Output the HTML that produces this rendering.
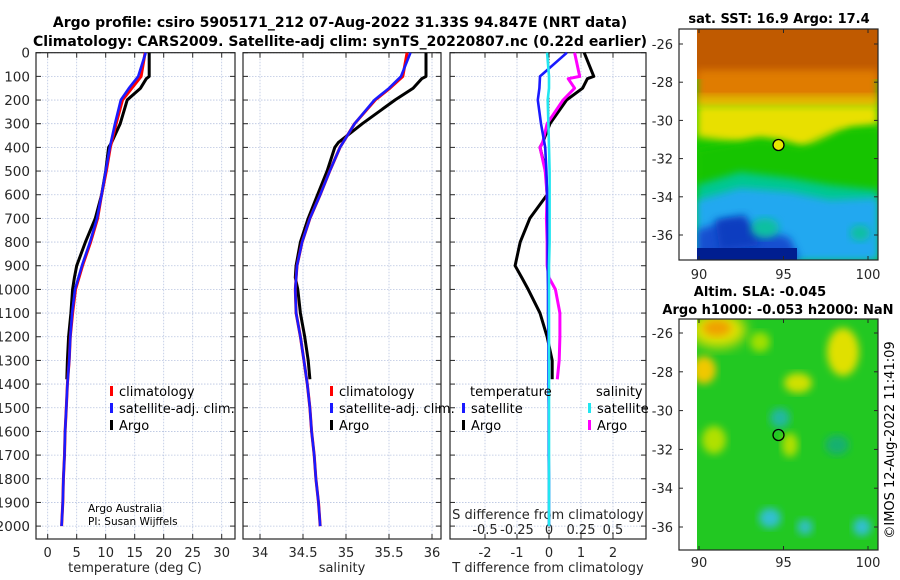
<!DOCTYPE html>
<html><head><meta charset="utf-8"><style>
body{margin:0;background:#fff;}
svg{display:block;font-family:"DejaVu Sans","Liberation Sans",sans-serif;}
</style></head><body>
<svg id="fig" width="900" height="580" viewBox="0 0 900 580">
<defs>
<filter id="bl" x="-20%" y="-20%" width="140%" height="140%"><feGaussianBlur stdDeviation="4"/></filter>
<filter id="bl2" x="-20%" y="-20%" width="140%" height="140%"><feGaussianBlur stdDeviation="6"/></filter>
<clipPath id="c1"><rect x="697" y="29" width="181" height="231"/></clipPath>
<clipPath id="c2"><rect x="697" y="319" width="181" height="231"/></clipPath>
</defs>
<g font-weight="bold" font-size="14" text-anchor="middle">
<text x="340" y="27">Argo profile: csiro 5905171_212 07-Aug-2022 31.33S 94.847E (NRT data)</text>
<text x="340" y="46">Climatology: CARS2009. Satellite-adj clim: synTS_20220807.nc (0.22d earlier)</text>
</g>
<g id="panels"></g>
<g id="maps">
<text x="779" y="23" font-size="13" font-weight="bold" text-anchor="middle">sat. SST: 16.9 Argo: 17.4</text>
<g clip-path="url(#c1)">
<rect x="697" y="29" width="181" height="231" fill="#18c800"/>
<rect x="697" y="29" width="181" height="50" fill="#c05a00"/>
<rect x="697" y="70" width="181" height="30" fill="#e07c00" filter="url(#bl)"/>
<rect x="697" y="95" width="181" height="12" fill="#f0b000" filter="url(#bl)"/>
<path d="M697,105 L878,105 L878,125 L850,128 L835,140 L820,150 L800,146 L780,140 L760,138 L740,142 L720,140 L697,137 Z" fill="#e8e000" filter="url(#bl)"/>
<path d="M697,150 L760,140 L800,148 L840,130 L878,128 L878,260 L697,260 Z" fill="#12c400" filter="url(#bl)"/>
<path d="M697,185 L740,172 L790,178 L830,185 L878,190 L878,260 L697,260 Z" fill="#00c890" filter="url(#bl)"/>
<path d="M697,200 L740,188 L790,192 L830,200 L878,198 L878,260 L697,260 Z" fill="#20a8f0" filter="url(#bl)"/>
<path d="M697,230 L730,220 L760,228 L790,238 L800,260 L697,260 Z" fill="#1450d0" filter="url(#bl)"/>
<path d="M715,220 L745,215 L760,245 L720,250 Z" fill="#0a3cc0" filter="url(#bl)"/>
<rect x="697" y="248" width="100" height="12" fill="#001e90"/>
<ellipse cx="765" cy="228" rx="14" ry="10" fill="#10c0a0" filter="url(#bl)"/>
<ellipse cx="860" cy="233" rx="10" ry="8" fill="#10c0a0" filter="url(#bl)"/>
</g>
<circle cx="778.5" cy="145" r="5.5" fill="#e8e800" stroke="#000" stroke-width="1.3"/>
<text x="760" y="296" font-size="13" font-weight="bold" text-anchor="middle">Altim. SLA: -0.045</text>
<text x="778" y="314" font-size="13" font-weight="bold" text-anchor="middle">Argo h1000: -0.053 h2000: NaN</text>
<g clip-path="url(#c2)">
<rect x="697" y="319" width="181" height="231" fill="#22c822"/>
<ellipse cx="718" cy="330" rx="28" ry="18" fill="#e0e000" filter="url(#bl2)"/>
<ellipse cx="717" cy="328" rx="14" ry="8" fill="#f0a000" filter="url(#bl)"/>
<ellipse cx="704" cy="370" rx="12" ry="14" fill="#f0c800" filter="url(#bl)"/>
<ellipse cx="843" cy="352" rx="16" ry="24" fill="#e0e000" filter="url(#bl)"/>
<ellipse cx="798" cy="383" rx="14" ry="10" fill="#d0e000" filter="url(#bl)"/>
<ellipse cx="760" cy="342" rx="10" ry="10" fill="#a0e000" filter="url(#bl)"/>
<ellipse cx="714" cy="440" rx="12" ry="14" fill="#b0e000" filter="url(#bl)"/>
<ellipse cx="790" cy="445" rx="8" ry="12" fill="#b0e000" filter="url(#bl)"/>
<ellipse cx="780" cy="418" rx="10" ry="10" fill="#20b8a0" filter="url(#bl)"/>
<ellipse cx="770" cy="518" rx="11" ry="10" fill="#30c0d0" filter="url(#bl)"/>
<ellipse cx="805" cy="527" rx="8" ry="8" fill="#30c0c0" filter="url(#bl)"/>
<ellipse cx="862" cy="527" rx="9" ry="9" fill="#30c0d0" filter="url(#bl)"/>
<ellipse cx="837" cy="445" rx="12" ry="10" fill="#18b070" filter="url(#bl)"/>
</g>
<circle cx="778.5" cy="435" r="5.5" fill="none" stroke="#000" stroke-width="1.3"/>
<text transform="translate(894,440) rotate(-90)" font-size="13" text-anchor="middle">©IMOS 12-Aug-2022 11:41:09</text>
</g>
</svg>
<script>
// ---- data ----
const depthsT = [0,100,150,200,300,400,500,600,700,800,900,1000,1100,1200,1300,1400,1500,1600,1700,1800,1900,2000];
const tempClim = [16.8,16.1,14.5,12.9,11.8,10.8,10.1,9.3,8.6,7.4,6.0,4.8,4.3,3.9,3.7,3.4,3.2,3.0,2.9,2.7,2.6,2.4];
const tempSat = [16.9,15.6,14.0,12.6,11.6,10.7,10.0,9.3,8.5,7.3,5.9,4.7,4.2,3.9,3.7,3.4,3.2,3.0,2.9,2.7,2.6,2.4];
const salClim = [35.71,35.66,35.51,35.34,35.10,34.93,34.81,34.70,34.58,34.49,34.43,34.41,34.42,34.47,34.51,34.55,34.58,34.60,34.63,34.65,34.68,34.70];
const salSat = [35.75,35.64,35.50,35.33,35.10,34.93,34.81,34.70,34.58,34.49,34.43,34.41,34.42,34.47,34.51,34.55,34.58,34.60,34.63,34.65,34.68,34.70];
const depthsA = [0,100,110,150,200,300,380,400,500,600,700,800,900,950,1000,1100,1200,1300,1380];
const tempArgo = [17.5,17.5,17.0,16.0,13.7,12.5,11.0,10.5,10.0,9.3,8.2,6.5,5.0,4.6,4.3,4.0,3.6,3.4,3.3];
const salArgo = [35.93,35.93,35.88,35.78,35.57,35.19,34.91,34.87,34.78,34.67,34.56,34.47,34.42,34.41,34.44,34.47,34.52,34.56,34.58];
const tDiffSat = [0.56,-0.28,-0.3,-0.35,-0.25,-0.12,-0.08,-0.06,-0.05,-0.04,-0.04,-0.03,-0.03,-0.02,-0.02,-0.02,-0.01,-0.01,-0.01,0,0,0];
const sDiffSat = [-0.015,0.0,0.0,-0.01,-0.005,0.0,0.005,0.005,0.005,0.005,0.0,0.0,0.0,0.0,0.0,0.0,0.0,0.0,0.0,0.0,0.0,0.0];
const tDiffArgo = [1.1,1.4,1.2,1.05,0.55,0.03,-0.2,-0.28,-0.1,-0.06,-0.6,-0.9,-1.06,-0.85,-0.65,-0.28,-0.06,0.1,0.1];
const sDiffArgo = [0.2,0.24,0.15,0.2,0.11,-0.015,-0.05,-0.07,-0.03,-0.015,-0.02,-0.015,-0.015,0.0,0.05,0.085,0.085,0.08,0.065];
const depthTicks = [0,100,200,300,400,500,600,700,800,900,1000,1100,1200,1300,1400,1500,1600,1700,1800,1900,2000];
const tempTicks = [0,5,10,15,20,25,30];
const salTicks = [34,34.5,35,35.5,36];
const salTickLabels = ["34","34.5","35","35.5","36"];
const tDiffTicks = [-2,-1,0,1,2];
const sDiffTicks = [-0.5,-0.25,0,0.25,0.5];
const latTicks = [-26,-28,-30,-32,-34,-36];
const lonTicks = [90,95,100];

// ---- axes ----
const NS='http://www.w3.org/2000/svg';
const yD = d => 52.7 + 0.2367*d;
const xT = t => 47.7 + 5.8*t;
const xS = s => 260 + 86*(s-34);
const xTD = v => 549 + 32*v;
const xSD = v => 549 + 128*v;
const root = document.getElementById('panels');
function el(tag, attrs, parent){const e=document.createElementNS(NS,tag);for(const k in attrs)e.setAttribute(k,attrs[k]);(parent||root).appendChild(e);return e;}
function txt(x,y,s,attrs,parent){const t=el('text',Object.assign({x:x,y:y,'font-size':13,fill:'#262626'},attrs||{}),parent);t.textContent=s;return t;}

const panels=[{x0:36,x1:235,name:'temperature'},{x0:243,x1:441,name:'salinity'},{x0:450,x1:646,name:'difference'}];
const yTop=52.7,yBot=539;
panels.forEach((p,i)=>{
  const g=el('g',{});
  
  
  const grid=el('g',{stroke:'#b8c4e0','stroke-width':0.8,'stroke-dasharray':'1.5,1.5'},g);
  depthTicks.forEach(d=>{el('line',{x1:p.x0,x2:p.x1,y1:yD(d),y2:yD(d)},grid);});
  const xs = i===0?tempTicks.map(xT):i===1?salTicks.map(xS):tDiffTicks.map(xTD);
  xs.forEach(x=>el('line',{x1:x,x2:x,y1:yTop,y2:yBot},grid));
  el('rect',{x:p.x0,y:yTop,width:p.x1-p.x0,height:yBot-yTop,fill:'none',stroke:'#262626','stroke-width':1.2},g);
  depthTicks.forEach(d=>{el('line',{x1:p.x0,x2:p.x0+5,y1:yD(d),y2:yD(d),stroke:'#262626'},g);el('line',{x1:p.x1-5,x2:p.x1,y1:yD(d),y2:yD(d),stroke:'#262626'},g);});
  xs.forEach(x=>{el('line',{x1:x,x2:x,y1:yBot-5,y2:yBot,stroke:'#262626'},g);el('line',{x1:x,x2:x,y1:yTop,y2:yTop+5,stroke:'#262626'},g);});
});
const yl=el('g',{});


depthTicks.forEach(d=>txt(30,yD(d)+5,String(d),{'text-anchor':'end','font-size':13.5},yl));
const xl=el('g',{});


tempTicks.forEach(t=>txt(xT(t),557,String(t),{'text-anchor':'middle'},xl));
salTicks.forEach((s,i)=>txt(xS(s),557,salTickLabels[i],{'text-anchor':'middle'},xl));
tDiffTicks.forEach(t=>txt(xTD(t),557,String(t),{'text-anchor':'middle'},xl));
sDiffTicks.forEach(t=>txt(xSD(t),534,String(t),{'text-anchor':'middle'},xl));
const t1=txt(135,572,'temperature (deg C)',{'text-anchor':'middle'});


const t2=txt(342,572,'salinity',{'text-anchor':'middle'});


const t3=txt(548,572,'T difference from climatology',{'text-anchor':'middle'});


const t4=txt(548,519,'S difference from climatology',{'text-anchor':'middle'});


const cr=el('g',{});


txt(88,512,'Argo Australia',{'font-size':10.5,fill:'#000'},cr);
txt(88,525,'PI: Susan Wijffels',{'font-size':10.5,fill:'#000'},cr);

const zl=el('line',{x1:xTD(0),x2:xTD(0),y1:yTop,y2:yBot,stroke:'#000','stroke-width':1,'stroke-dasharray':'1.5,1.5'});



function line(xf,vals,depths,color,w,name){
  const pts=vals.map((v,i)=>xf(v).toFixed(1)+','+yD(depths[i]).toFixed(1)).join(' ');
  const pl=el('polyline',{points:pts,fill:'none',stroke:color,'stroke-width':w,'stroke-linejoin':'round'});
  
  
}
line(xT,tempArgo,depthsA,'#000',3,'temp-argo-line');
line(xT,tempClim,depthsT,'#f00',3,'temp-clim-line');
line(xT,tempSat,depthsT,'#1a1aff',2.6,'temp-sat-line');
line(xS,salArgo,depthsA,'#000',3,'sal-argo-line');
line(xS,salClim,depthsT,'#f00',3,'sal-clim-line');
line(xS,salSat,depthsT,'#1a1aff',2.6,'sal-sat-line');
line(xTD,tDiffArgo,depthsA,'#000',3,'tdiff-argo-line');
line(xSD,sDiffArgo,depthsA,'#ff00ff',3,'sdiff-argo-line');
line(xTD,tDiffSat,depthsT,'#1a1aff',2.6,'tdiff-sat-line');
line(xSD,sDiffSat,depthsT,'#22e6f0',2.6,'sdiff-sat-line');

function legend(x,y,color,label,name){
  const g=el('g',{});
  
  
  el('rect',{x:x,y:y-10,width:3,height:10,fill:color},g);
  txt(x+9,y,label,{fill:'#000'},g);
}
legend(110,396,'#f00','climatology','temp-legend-climatology');
legend(110,413,'#1a1aff','satellite-adj. clim.','temp-legend-satellite');
legend(110,430,'#000','Argo','temp-legend-argo');
legend(330,396,'#f00','climatology','sal-legend-climatology');
legend(330,413,'#1a1aff','satellite-adj. clim.','sal-legend-satellite');
legend(330,430,'#000','Argo','sal-legend-argo');
const lt=txt(470,396,'temperature',{fill:'#000'});


const ls=txt(596,396,'salinity',{fill:'#000'});


legend(462,413,'#1a1aff','satellite','diff-legend-t-satellite');
legend(462,430,'#000','Argo','diff-legend-t-argo');
legend(588,413,'#22e6f0','satellite','diff-legend-s-satellite');
legend(588,430,'#ff00ff','Argo','diff-legend-s-argo');

const mroot=document.getElementById('maps');
const lonX = l => 699 + 16.9*(l-90);
[{y0:29,y1:260,lat:l=>44+19.1*(-26-l),name:'sst-map-axes',ly:279},{y0:319,y1:550,lat:l=>333+19.4*(-26-l),name:'sla-map-axes',ly:567}].forEach(m=>{
  const g=el('g',{},mroot);
  
  
  el('rect',{x:679,y:m.y0,width:199,height:m.y1-m.y0,fill:'none',stroke:'#262626','stroke-width':1.2},g);
  latTicks.forEach(l=>{const y=m.lat(l);el('line',{x1:679,x2:683,y1:y,y2:y,stroke:'#262626'},g);el('line',{x1:874,x2:878,y1:y,y2:y,stroke:'#262626'},g);txt(673,y+5,String(l),{'text-anchor':'end'},g);});
  lonTicks.forEach(l=>{const x=lonX(l);el('line',{x1:x,x2:x,y1:m.y1-4,y2:m.y1,stroke:'#262626'},g);el('line',{x1:x,x2:x,y1:m.y0,y2:m.y0+4,stroke:'#262626'},g);txt(x,m.ly,String(l),{'text-anchor':'middle'},g);});
});
</script>
</body></html>
